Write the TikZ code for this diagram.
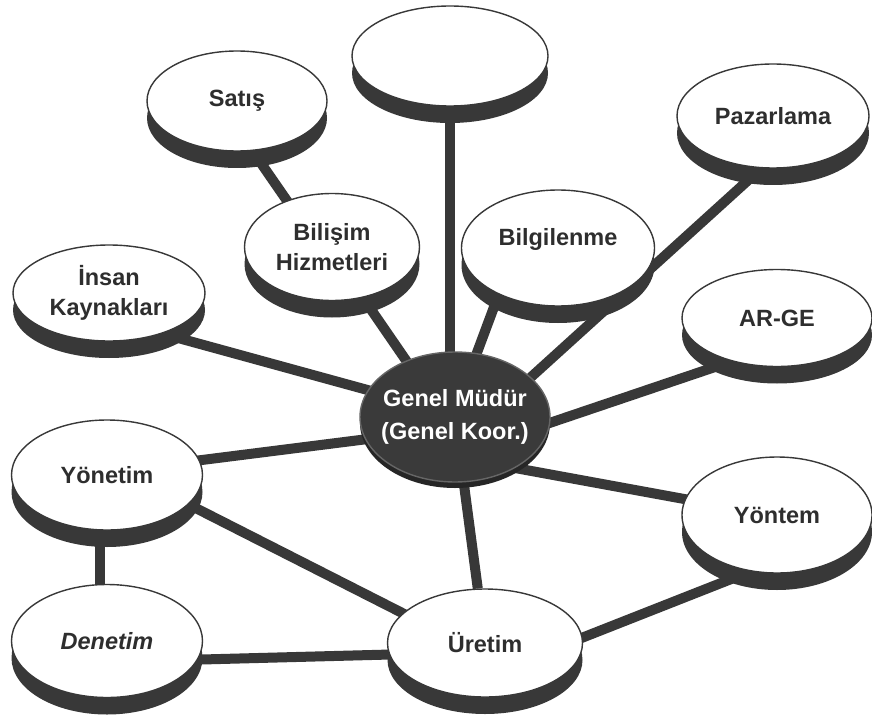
\documentclass[tikz,border=0pt]{standalone}
\usepackage{fontspec}
\setmainfont{Liberation Sans}
\usetikzlibrary{shapes.geometric,shadows,backgrounds,calc}
\definecolor{ink}{HTML}{383838}
\definecolor{txt}{HTML}{2E2E2E}
\definecolor{core}{HTML}{3A3A3A}
\begin{document}
\begin{tikzpicture}[x=1pt,y=-1pt,
  disc/.style={ellipse, draw=ink, line width=1.4pt, fill=white, inner sep=0pt,
    font=\fontsize{23.5}{30}\selectfont\bfseries, text=txt, align=center,
    drop shadow={shadow xshift=0pt, shadow yshift=-17pt, fill=ink, opacity=1}},
  coredisc/.style={ellipse, draw=black!60, line width=1.4pt, fill=core, inner sep=0pt,
    inner xsep=-8pt, font=\fontsize{23.5}{33}\selectfont\bfseries, text=white, align=center,
    drop shadow={shadow xshift=0pt, shadow yshift=-6pt, fill=black!85, opacity=1}},
  link/.style={draw=ink, line width=10pt}]
\useasboundingbox (0,0) rectangle (872,722);

\node[disc, minimum width=180pt, minimum height=100pt] (satis) at (237,101) {Satış};
\node[disc, minimum width=196pt, minimum height=100pt] (bos) at (450,56) {};
\node[disc, minimum width=192pt, minimum height=104pt] (pazar) at (773,116) {Pazarlama};
\node[disc, minimum width=175pt, minimum height=107pt] (bilisim) at (332,247) {Bilişim\\Hizmetleri};
\node[disc, minimum width=193pt, minimum height=116pt] (bilgi) at (558,248) {Bilgilenme\\[-8pt]\mbox{}};
\node[disc, minimum width=192pt, minimum height=96pt] (insan) at (109,293) {İnsan\\Kaynakları};
\node[disc, minimum width=190pt, minimum height=97pt] (arge) at (777,318) {AR-GE};
\node[coredisc, minimum width=190pt, minimum height=130pt] (genel) at (455,417) {Genel Müdür\\(Genel Koor.)};
\node[disc, minimum width=191pt, minimum height=110pt] (yonetim) at (107,475) {Yönetim};
\node[disc, minimum width=190pt, minimum height=116pt] (yontem) at (777,515) {Yöntem};
\node[disc, minimum width=191pt, minimum height=113pt] (denetim) at (107,641) {\itshape Denetim};
\node[disc, minimum width=195pt, minimum height=108pt] (uretim) at (485,643) {Üretim};

\begin{scope}[on background layer]
\fill[white] (0,0) rectangle (872,722);
\draw[link] ($(satis)+(-19,0)$) -- ($(bilisim)+(-13,0)$);
\draw[link] (bos) -- ($(genel)+(-5,0)$);
\draw[link] ($(pazar)+(46,0)$) -- ($(genel)+(32,0)$);
\draw[link] ($(bilisim)+(-4,0)$) -- ($(genel)+(-10,0)$);
\draw[link] ($(bilgi)+(-42,0)$) -- ($(genel)+(-2,0)$);
\draw[link] ($(insan)+(0,26)$) -- ($(genel)+(0,-3)$);
\draw[link] ($(arge)+(0,28)$) -- ($(genel)+(0,38)$);
\draw[link] ($(yonetim)+(0,-3)$) -- ($(genel)+(0,11)$);
\draw[link] ($(genel)+(0,40)$) -- ($(yontem)+(0,1)$);
\draw[link] (genel) -- (uretim);
\draw[link] ($(yonetim)+(0,-12)$) -- ($(uretim)+(0,12)$);
\draw[link] ($(yonetim)+(-7,0)$) -- ($(denetim)+(-7,0)$);
\draw[link] ($(denetim)+(0,21)$) -- ($(uretim)+(0,9)$);
\draw[link] ($(uretim)+(0,33)$) -- ($(yontem)+(0,46)$);
\end{scope}
\end{tikzpicture}
\end{document}
